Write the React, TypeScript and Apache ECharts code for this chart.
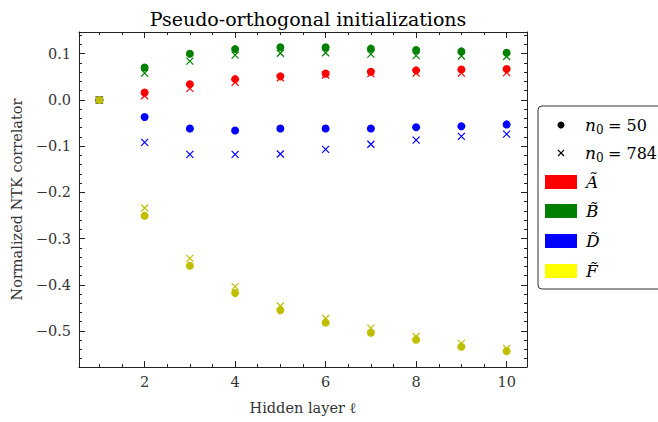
import React, { useEffect, useRef } from "react";
import * as echarts from "echarts";

const layers = [1, 2, 3, 4, 5, 6, 7, 8, 9, 10];
const A50 = [0, 0.016, 0.034, 0.045, 0.051, 0.057, 0.061, 0.064, 0.066, 0.067];
const A784 = [0, 0.009, 0.025, 0.038, 0.048, 0.054, 0.057, 0.058, 0.058, 0.059];
const B50 = [0, 0.07, 0.1, 0.11, 0.114, 0.114, 0.111, 0.108, 0.105, 0.102];
const B784 = [0, 0.058, 0.084, 0.097, 0.101, 0.102, 0.099, 0.096, 0.095, 0.094];
const D50 = [0, -0.037, -0.062, -0.066, -0.062, -0.062, -0.062, -0.059, -0.057, -0.053];
const D784 = [0, -0.092, -0.118, -0.118, -0.117, -0.107, -0.096, -0.087, -0.079, -0.074];
const F50 = [0, -0.251, -0.359, -0.418, -0.455, -0.482, -0.504, -0.519, -0.534, -0.544];
const F784 = [0, -0.234, -0.343, -0.404, -0.446, -0.473, -0.494, -0.512, -0.527, -0.538];

const xTicks = [2, 4, 6, 8, 10];
const yTicks = [-0.5, -0.4, -0.3, -0.2, -0.1, 0.0, 0.1];

const COLORS = { A: "#ff0000", B: "#008000", D: "#0000ff", F: "#bfbf00" };
const FONT = "DejaVu Serif";
const CROSS = "path://M0,0L10,10M10,0L0,10";

function range(a: number, b: number, step: number) {
  const out: number[] = [];
  for (let v = a; v <= b + 1e-9; v += step) out.push(Math.round(v * 1000) / 1000);
  return out;
}
const xMinor = range(1, 10.4, 0.5).filter((v) => !xTicks.includes(v));
const yMinor = range(-0.56, 0.14, 0.02).filter((v) => !yTicks.some((t) => Math.abs(t - v) < 1e-6));

export default function App() {
  const ref = useRef<HTMLDivElement>(null);
  useEffect(() => {
    const chart = echarts.init(ref.current!, null, { renderer: "svg" });
    const dotSeries = (data: number[], color: string) => ({
      type: "scatter",
      data: layers.map((x, i) => [x, data[i]]),
      symbol: "circle",
      symbolSize: 8,
      itemStyle: { color, opacity: 1 },
      xAxisIndex: 0,
      yAxisIndex: 0,
    });
    const crossSeries = (data: number[], color: string) => ({
      type: "scatter",
      data: layers.map((x, i) => [x, data[i]]),
      symbol: CROSS,
      symbolSize: 7,
      itemStyle: { color: "none", borderColor: color, borderWidth: 1.2, opacity: 1 },
      xAxisIndex: 0,
      yAxisIndex: 0,
    });
    const xMin = 0.55, xMax = 10.45, yMin = -0.578, yMax = 0.147;
    const lineStyle = { color: "#222", width: 1 };
    const baseX = (pos: string, ticks: number[], len: number, labels: boolean, line: boolean) => ({
      type: "value",
      position: pos,
      min: xMin,
      max: xMax,
      axisLine: { show: line, onZero: false, lineStyle },
      axisTick: { show: true, inside: true, length: len, customValues: ticks, lineStyle },
      axisLabel: labels
        ? { show: true, customValues: ticks, fontFamily: FONT, fontSize: 14.5, color: "#333", margin: 7, formatter: (v: number) => String(v) }
        : { show: false },
      splitLine: { show: false },
    });
    const fmtY = (v: number) => (v < -1e-9 ? "\u2212" + Math.abs(v).toFixed(1) : Math.abs(v).toFixed(1));
    const baseY = (pos: string, ticks: number[], len: number, labels: boolean, line: boolean) => ({
      type: "value",
      position: pos,
      min: yMin,
      max: yMax,
      axisLine: { show: line, onZero: false, lineStyle },
      axisTick: { show: true, inside: true, length: len, customValues: ticks, lineStyle },
      axisLabel: labels
        ? { show: true, customValues: ticks, fontFamily: FONT, fontSize: 14.5, color: "#333", margin: 8, formatter: fmtY }
        : { show: false },
      splitLine: { show: false },
    });
    const xMain: any = baseX("bottom", xTicks, 6, true, true);
    xMain.name = "Hidden layer \u2113";
    xMain.nameLocation = "middle";
    xMain.nameGap = 33;
    xMain.nameTextStyle = { fontFamily: FONT, fontSize: 14.5, color: "#333" };
    const yMain: any = baseY("left", yTicks, 6, true, true);
    yMain.name = "Normalized NTK correlator";
    yMain.nameLocation = "middle";
    yMain.nameGap = 55;
    yMain.nameRotate = 90;
    yMain.nameTextStyle = { fontFamily: FONT, fontSize: 14.5, color: "#333" };

    const lx = 538, ly = 106;
    const rowY = [125, 153, 182, 211, 241, 271];
    const patch = (y: number, c: string) => ({
      type: "rect",
      shape: { x: 545, y: y - 7, width: 32, height: 14 },
      style: { fill: c },
    });
    const tildeText = (y: number, s: string) => ({
      type: "text",
      x: 586,
      y: y,
      style: { text: s, font: `italic 17px "${FONT}"`, fill: "#000", textVerticalAlign: "middle" },
    });
    const nText = (y: number, val: string) => [
      { type: "text", x: 585, y: y, style: { text: "n", font: `italic 17px "${FONT}"`, fill: "#000", textVerticalAlign: "middle" } },
      { type: "text", x: 596, y: y + 5, style: { text: "0", font: `12px "${FONT}"`, fill: "#000", textVerticalAlign: "middle" } },
      { type: "text", x: 608, y: y, style: { text: "= " + val, font: `16px "${FONT}"`, fill: "#000", textVerticalAlign: "middle" } },
    ];

    chart.setOption({
      animation: false,
      title: {
        text: "Pseudo-orthogonal initializations",
        left: 303,
        top: 4,
        textAlign: "center",
        textStyle: { fontFamily: FONT, fontSize: 19, fontWeight: "normal", color: "#000" },
      },
      grid: { left: 79, top: 32, right: 131, bottom: 55, containLabel: false },
      xAxis: [
        xMain,
        baseX("bottom", xMinor, 3, false, false),
        baseX("top", xTicks, 6, false, true),
        baseX("top", xMinor, 3, false, false),
      ],
      yAxis: [
        yMain,
        baseY("left", yMinor, 3, false, false),
        baseY("right", yTicks, 6, false, true),
        baseY("right", yMinor, 3, false, false),
      ],
      series: [
        dotSeries(A50, COLORS.A),
        crossSeries(A784, COLORS.A),
        dotSeries(B50, COLORS.B),
        crossSeries(B784, COLORS.B),
        dotSeries(D50, COLORS.D),
        crossSeries(D784, COLORS.D),
        dotSeries(F50, COLORS.F),
        crossSeries(F784, COLORS.F),
      ],
      graphic: [
        {
          type: "rect",
          shape: { x: lx, y: ly, width: 130, height: 183, r: 4 },
          style: { fill: "#fff", stroke: "#333", lineWidth: 1 },
        },
        { type: "circle", shape: { cx: 561, cy: rowY[0], r: 3.5 }, style: { fill: "#000" } },
        { type: "line", shape: { x1: 558, y1: rowY[1] - 3, x2: 564, y2: rowY[1] + 3 }, style: { stroke: "#000", lineWidth: 1.1 } },
        { type: "line", shape: { x1: 564, y1: rowY[1] - 3, x2: 558, y2: rowY[1] + 3 }, style: { stroke: "#000", lineWidth: 1.1 } },
        ...nText(rowY[0], "50"),
        ...nText(rowY[1], "784"),
        patch(rowY[2], "#ff0000"),
        patch(rowY[3], "#008000"),
        patch(rowY[4], "#0000ff"),
        patch(rowY[5], "#ffff00"),
        tildeText(rowY[2], "A\u0303"),
        tildeText(rowY[3], "B\u0303"),
        tildeText(rowY[4], "D\u0303"),
        tildeText(rowY[5], "F\u0303"),
      ],
    });
    return () => chart.dispose();
  }, []);
  return <div ref={ref} style={{ width: 658, height: 422, position: "absolute", left: 0, top: 0 }} />;
}
